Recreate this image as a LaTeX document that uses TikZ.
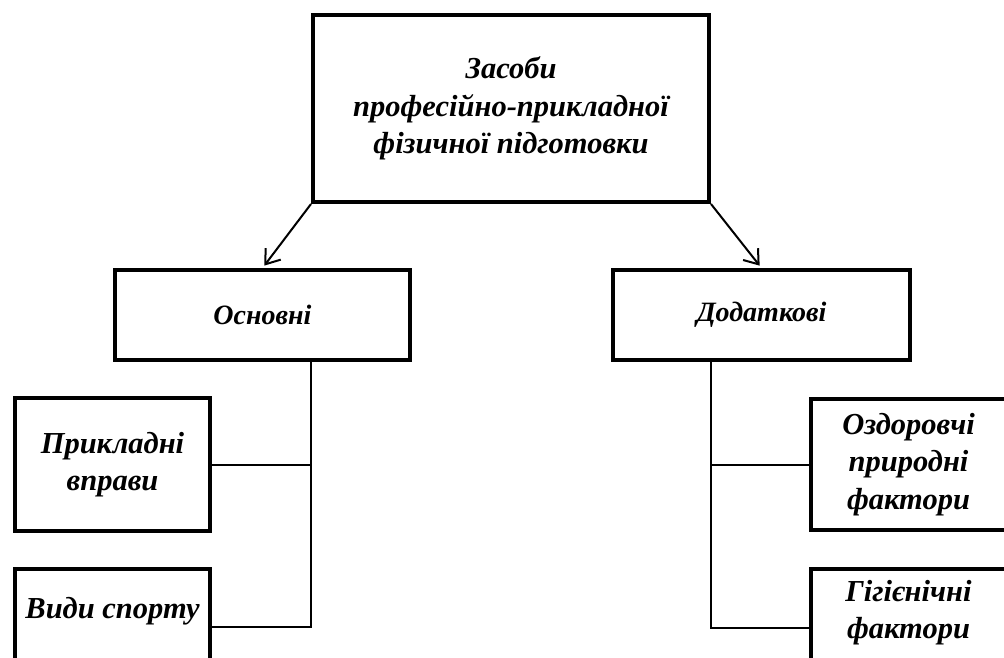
\documentclass[tikz,border=0pt]{standalone}
\usepackage{fontspec}
\setmainfont{Liberation Serif}
\usetikzlibrary{arrows.meta}

\tikzset{
    box/.style={draw, line width=4pt, rectangle, align=center, inner sep=0pt,
        font=\fontsize{30.5}{37.5}\selectfont\bfseries\itshape},
    midbox/.style={box, font=\fontsize{28}{32}\selectfont\bfseries\itshape},
    link/.style={line width=2pt},
}

\begin{document}
\begin{tikzpicture}[x=1pt,y=-1pt,>={Straight Barb[length=13pt,width=19pt]}]

\useasboundingbox (0,0) rectangle (1004,657);
\clip (0,0) rectangle (1004,657);

% Top
\node[box, minimum width=396, minimum height=187] (top) at (511,108.5)
    {Засоби\\професійно-прикладної\\фізичної підготовки};

% Middle level
\node[midbox, minimum width=295, minimum height=90] (main) at (262.5,315) {Основні};
\node[midbox, minimum width=297, minimum height=90] (extra) at (761.5,315) {Додаткові};

% Left branch
\node[box, minimum width=195, minimum height=133] (appl) at (112.5,464.5)
    {Прикладні\\вправи};
\node[box, minimum width=195, minimum height=116] (sport) at (112.5,627)
    {Види спорту\\\mbox{}};

% Right branch
\node[box, minimum width=195, minimum height=131] (health) at (908.5,464.5)
    {Оздоровчі\\природні\\фактори};
\node[box, minimum width=195, minimum height=118] (hyg) at (908.5,628)
    {Гігієнічні\\фактори\\\mbox{}};

% Arrows
\draw[link,->,shorten >=3pt] (top.south west) -- (main.north);
\draw[link,->,shorten >=3pt] (top.south east) -- (extra.north);

% Tree lines
\draw[link] (top.south west |- main.south) -- (top.south west |- sport.east) -- (sport.east);
\draw[link] (top.south west |- appl.east) -- (appl.east);
\draw[link] (top.south east |- extra.south) -- (top.south east |- hyg.west) -- (hyg.west);
\draw[link] (top.south east |- health.west) -- (health.west);

\end{tikzpicture}
\end{document}
